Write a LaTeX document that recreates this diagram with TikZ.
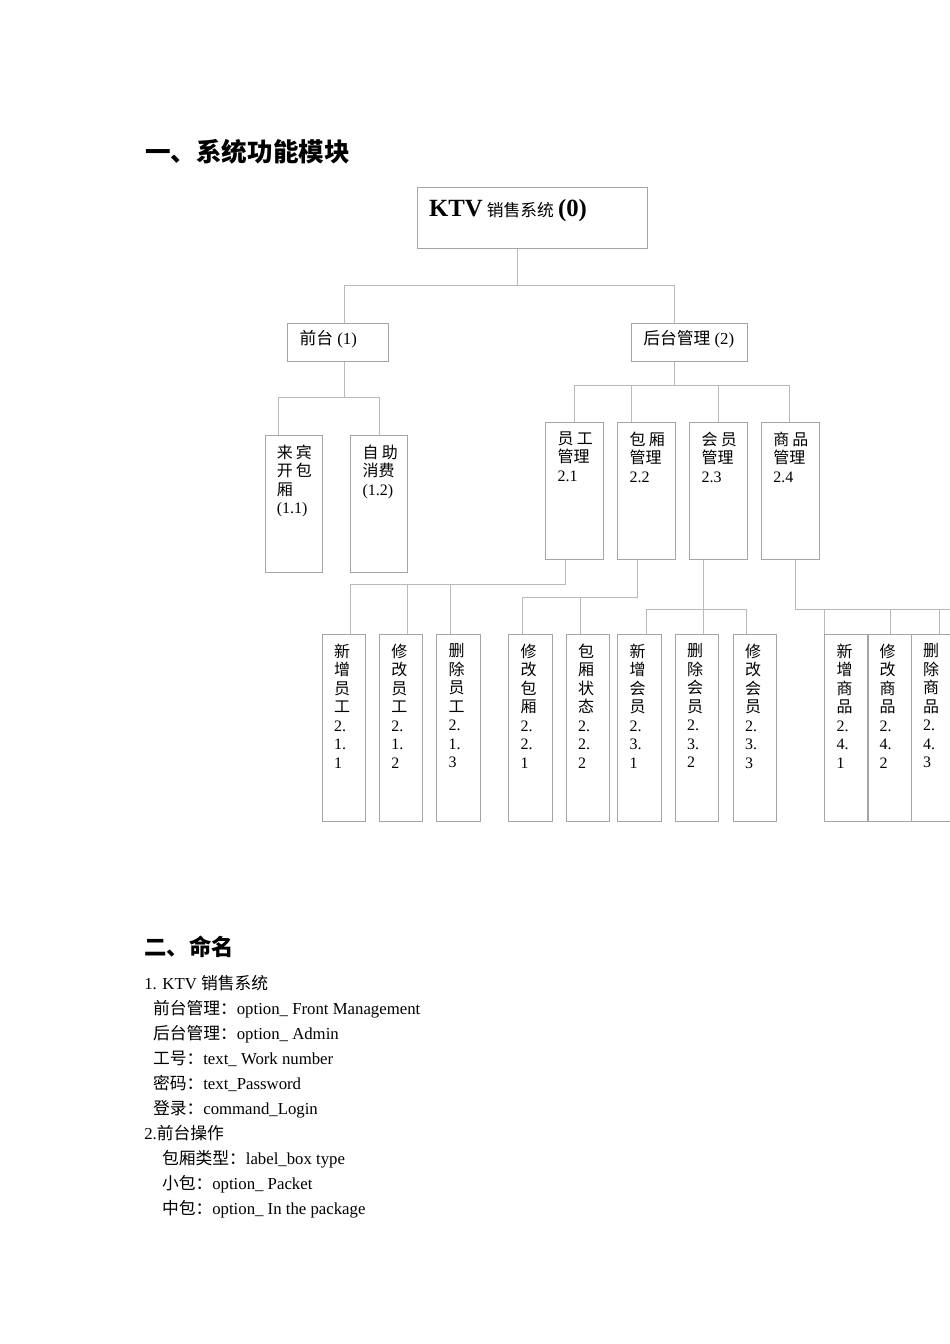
\documentclass[tikz,border=0pt]{standalone}
\usepackage{fontspec}
\setmainfont{Liberation Serif}
\newfontfamily\cjk{Noto Sans CJK SC}
\newcommand{\zh}[1]{{\cjk #1}}
\newdimen\pxu
\pxu=0.6263pt
\usetikzlibrary{positioning}
\definecolor{boxgray}{RGB}{165,165,165}
\definecolor{linkgray}{RGB}{185,185,185}
\tikzset{
  cell/.style 2 args={draw=boxgray, line width=0.6pt, anchor=north west,
    inner sep=0pt, minimum width=#1*\pxu, minimum height=#2*\pxu},
  link/.style={draw=linkgray, line width=0.6pt},
  boxtxt/.style={anchor=north west, inner sep=0pt, align=left,
    xshift=12*\pxu, yshift=-9*\pxu, font=\fontsize{10}{11.6}\selectfont},
  oneline/.style={anchor=base west, inner sep=0pt, xshift=12*\pxu,
    yshift=-#1*\pxu, font=\fontsize{10.5}{12.6}\selectfont},
  oneline/.default=21,
  bodyline/.style={anchor=base west, inner sep=0pt,
    font=\fontsize{10.5}{12.6}\selectfont},
}

\begin{document}
\begin{tikzpicture}[x=0.6263pt, y=-0.6263pt]
  \useasboundingbox (0,0) rectangle (950,1344);
  \clip (0,0) rectangle (950,1344);

  % headings
  \node[anchor=base west, inner sep=0pt, font=\fontsize{16}{19}\selectfont\cjk\bfseries]
    (head1) at (145,161.7) {一、系统功能模块};
  \node[anchor=base west, inner sep=0pt, font=\fontsize{14}{17}\selectfont\cjk\bfseries]
    (head2) at (144,955.8) {二、命名};

  % root and first level
  \node[cell={230}{61.6}, label={[oneline=29.3]north west:{\fontsize{15.5}{18}\selectfont\bfseries KTV} \zh{销售系统} {\fontsize{15.5}{18}\selectfont\bfseries (0)}}]
    (root) at (416.7,186.7) {};
  \node[cell={100.4}{37.4}, label={[oneline]north west:\zh{前台} (1)}] (front) at (287.3,323.3) {};
  \node[cell={115.5}{37.5}, label={[oneline]north west:\zh{后台管理} (2)}] (back) at (631,323) {};

  % second level
  \node[cell={57.1}{137}, label={[boxtxt]north west:\zh{来\hspace{2pt}宾}\\\zh{开\hspace{2pt}包}\\\zh{厢}\\(1.1)}]
    (f1) at (264.5,435.3) {};
  \node[cell={57}{137}, label={[boxtxt]north west:\zh{自\hspace{2pt}助}\\\zh{消费}\\(1.2)}]
    (f2) at (350.3,435.3) {};
  \foreach \x/\n/\ca/\cb/\k in {545.3/n21/员/工/1, 617.3/n22/包/厢/2, 689.3/n23/会/员/3, 761/n24/商/品/4}
    \node[cell={57.7}{137}, label={[boxtxt]north west:\zh{\ca\hspace{2pt}\cb}\\\zh{管理}\\2.\k}]
      (\n) at (\x,422.3) {};

  % third level
  \foreach \x/\n/\ca/\cb/\cc/\cd/\p/\q in {321.7/e1/新/增/员/工/1/1, 379/e2/修/改/员/工/1/2,
      436.3/e3/删/除/员/工/1/3, 508.3/r1/修/改/包/厢/2/1, 565.7/r2/包/厢/状/态/2/2,
      617.3/m1/新/增/会/员/3/1, 674.7/m2/删/除/会/员/3/2, 732.7/m3/修/改/会/员/3/3,
      824.3/g1/新/增/商/品/4/1, 867.3/g2/修/改/商/品/4/2, 910.7/g3/删/除/商/品/4/3}
    \node[cell={43.3}{186.7}, label={[boxtxt]north west:\zh{\ca}\\\zh{\cb}\\\zh{\cc}\\\zh{\cd}\\2.\\\p.\\\q}]
      (\n) at (\x,634.3) {};

  % connectors
  \coordinate (j0) at (517,285.3);
  \draw[link] (root.south -| j0) -- (j0);
  \draw[link] (front.north -| 344.3,0) |- (j0) -| (back.north -| 674,0);

  \coordinate (j1) at (344.3,397.3);
  \draw[link] (front.south -| j1) -- (j1);
  \draw[link] (f1.north -| 278.7,0) |- (j1) -| (f2.north -| 379.4,0);

  \coordinate (j2) at (674,385.3);
  \draw[link] (back.south -| j2) -- (j2);
  \draw[link] (n21.north -| 574.3,0) |- (j2) -| (n24.north -| 789.3,0);
  \draw[link] (n22.north -| 631.7,0) -- (j2 -| 631.7,0);
  \draw[link] (n23.north -| 718.3,0) -- (j2 -| 718.3,0);

  \coordinate (j3) at (565.7,584.3);
  \draw[link] (n21.south -| j3) -- (j3) -| (e1.north -| 350.3,0);
  \draw[link] (e2.north -| 407.3,0) -- (j3 -| 407.3,0);
  \draw[link] (e3.north -| 450.3,0) -- (j3 -| 450.3,0);

  \coordinate (j4) at (637.3,597);
  \draw[link] (n22.south -| j4) -- (j4) -| (r1.north -| 522.3,0);
  \draw[link] (r2.north -| 580.3,0) -- (j4 -| 580.3,0);

  \coordinate (j5) at (703.3,609.3);
  \draw[link] (n23.south -| j5) -- (m2.north -| j5);
  \draw[link] (m1.north -| 646.3,0) |- (j5) -| (m3.north -| 746.3,0);

  \coordinate (j6) at (795.3,609.3);
  \draw[link] (n24.south -| j6) -- (j6) -- (j6 -| g3.north east);
  \draw[link] (g1.north west) -- (g1.north west |- j6);
  \draw[link] (g2.north -| 890.7,0) -- (j6 -| 890.7,0);
  \draw[link] (g3.north -| 939.3,0) -- (j6 -| 939.3,0);

  % naming list
  \foreach \y/\x/\t [count=\i] in {
      989.3/144/{1. KTV \zh{销售系统}},
      1014.3/152.7/{\zh{前台管理：}option\_ Front Management},
      1039.3/152.7/{\zh{后台管理：}option\_ Admin},
      1064.3/152.7/{\zh{工号：}text\_ Work number},
      1089.3/152.7/{\zh{密码：}text\_Password},
      1114.3/152.7/{\zh{登录：}command\_Login},
      1139.3/144/{2.\zh{前台操作}},
      1164.3/161.7/{\zh{包厢类型：}label\_box type},
      1189.3/161.7/{\zh{小包：}option\_ Packet},
      1214.3/161.7/{\zh{中包：}option\_ In the package}}
    \node[bodyline] (line\i) at (\x,\y) {\t};
\end{tikzpicture}
\end{document}
